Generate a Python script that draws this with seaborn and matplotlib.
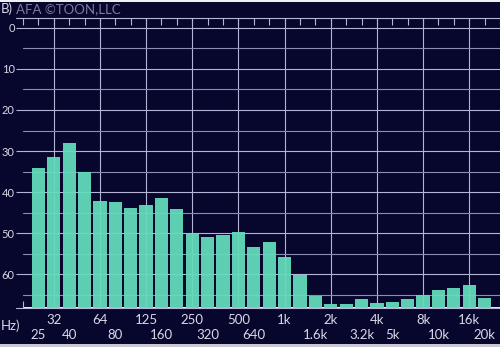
import matplotlib
matplotlib.use("Agg")
import matplotlib.pyplot as plt
from matplotlib.patches import Rectangle
import seaborn as sns
import pandas as pd

# 1/3-octave bands
bands = ["25", "31.5", "40", "50", "63", "80", "100", "125", "160", "200",
         "250", "315", "400", "500", "630", "800", "1k", "1.25k", "1.6k", "2k",
         "2.5k", "3.15k", "4k", "5k", "6.3k", "8k", "10k", "12.5k", "16k", "20k"]
# level in dB below reference (0 at top)
levels = [34.2, 31.4, 28.0, 35.0, 42.2, 42.4, 43.8, 43.1, 41.5, 44.1,
          50.3, 50.9, 50.5, 49.7, 53.3, 52.1, 55.8, 60.2, 65.4, 67.2,
          67.2, 66.0, 67.1, 66.7, 66.0, 65.0, 63.9, 63.4, 62.7, 65.8]

row1_idx = [1, 4, 7, 10, 13, 16, 19, 22, 25, 28]
row1_lab = ["32", "64", "125", "250", "500", "1k", "2k", "4k", "8k", "16k"]
row2_idx = [0, 2, 5, 8, 11, 14, 18, 21, 23, 26, 29]
row2_lab = ["25", "40", "80", "160", "320", "640", "1.6k", "3.2k", "5k", "10k", "20k"]
ytick_vals = [0, 10, 20, 30, 40, 50, 60]
yminor_vals = [5, 15, 25, 35, 45, 55, 65]

FLOOR = 68.1
TOP = -2.4

BG = "#07062d"
BAR = "#64dcbc"
GRID = "#b4b4d4"
GRID_MINOR = "#8c8cb4"
TXT = "#d8d8e8"
FS = 9.5

sns.set_theme(style="dark")
plt.rcParams["font.family"] = ["Lato", "DejaVu Sans"]

df = pd.DataFrame({"band": bands, "h": [FLOOR - v for v in levels]})

fig = plt.figure(figsize=(5.0, 3.47), dpi=100, facecolor=BG)
ax = fig.add_axes([23 / 500, 1 - 307.5 / 347, 477 / 500, (307.5 - 18) / 347])
ax.set_facecolor(BG)

sns.barplot(data=df, x="band", y="h", order=bands, color=BAR, width=0.86,
            saturation=1, edgecolor="none", alpha=0.94, ax=ax, zorder=3)

ax.set_xlim(-1, 30)
ax.set_ylim(0, FLOOR - TOP)

# y axis
ax.set_yticks([FLOOR - t for t in ytick_vals])
ax.set_yticklabels([str(t) for t in ytick_vals])
ax.set_yticks([FLOOR - t for t in yminor_vals], minor=True)
ax.tick_params(axis="y", which="major", length=5, width=0.8, color=GRID,
               labelcolor=TXT, labelsize=8, pad=1, direction="out", left=True)
ax.tick_params(axis="y", which="minor", length=0)

# x axis
ax.set_xticks(row1_idx)
ax.set_xticklabels(row1_lab)
ax.set_xticks(row2_idx, minor=True)
ax.set_xticklabels(row2_lab, minor=True)
ax.tick_params(axis="x", which="major", length=0, labelcolor=TXT,
               labelsize=FS, pad=4.5)
ax.tick_params(axis="x", which="minor", length=0, labelcolor=TXT,
               labelsize=FS, pad=15.5)

ax.set_axisbelow(True)
ax.grid(False)
ax.grid(axis="x", which="major", color=GRID, linewidth=0.8, zorder=1)
ax.grid(axis="y", which="major", color=GRID, linewidth=0.8, zorder=1)
ax.grid(axis="y", which="minor", color=GRID_MINOR, linewidth=0.8, zorder=1)

ax.set_xlabel("")
ax.set_ylabel("")

for s in ["left", "right"]:
    ax.spines[s].set_visible(False)
for s in ["top", "bottom"]:
    ax.spines[s].set_visible(True)
    ax.spines[s].set_color(GRID)
    ax.spines[s].set_linewidth(0.8)

# tick marks at every band along the top frame
topax = ax.secondary_xaxis("top")
topax.set_xticks(list(range(-1, 31)))
topax.set_xticklabels([])
topax.tick_params(direction="in", length=5, width=0.8, color=GRID)
topax.spines["top"].set_visible(False)

botax = ax.secondary_xaxis("bottom")
botax.set_xticks([-1, 30])
botax.set_xticklabels([])
botax.tick_params(direction="in", length=5, width=0.8, color=GRID)
botax.spines["bottom"].set_visible(False)

# frame lines extending to the left of the plot
fig.add_artist(plt.Line2D([16 / 500, 23 / 500], [1 - 18 / 347, 1 - 18 / 347],
                          color=GRID, linewidth=0.8))
fig.add_artist(plt.Line2D([16 / 500, 23 / 500], [1 - 307.5 / 347, 1 - 307.5 / 347],
                          color=GRID, linewidth=0.8))

# texts
fig.text(16 / 500, 1 - 9 / 347, "AFA ©TOON,LLC", color="#7a7aa4",
         fontsize=FS, va="center", ha="left")
fig.text(1 / 500, 1 - 9 / 347, "B)", color=TXT, fontsize=FS,
         va="center", ha="left")
fig.text(1 / 500, 1 - 326 / 347, "Hz)", color=TXT, fontsize=FS,
         va="center", ha="left")

# thin light borders top and bottom
fig.patches.append(Rectangle((0, 1 - 2 / 347), 1, 2 / 347, transform=fig.transFigure,
                             facecolor="#f0f0f4", edgecolor="none"))
fig.patches.append(Rectangle((0, 0), 1, 3.5 / 347, transform=fig.transFigure,
                             facecolor="#c8c8d4", edgecolor="none"))

fig.savefig("out.png", dpi=100, facecolor=BG)
